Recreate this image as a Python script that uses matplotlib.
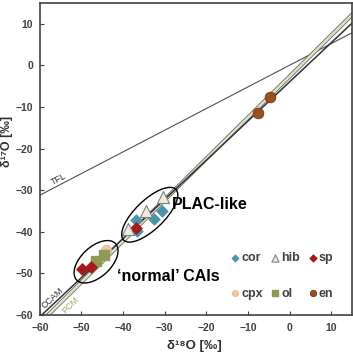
"""
δ18O vs δ17O of CAI minerals
"""
import matplotlib
matplotlib.use('Agg')
import matplotlib.pyplot as plt
from matplotlib.patches import Ellipse
import numpy as np

matplotlib.rcParams['font.family'] = ['Liberation Sans', 'DejaVu Sans']

# reference lines: slope, intercept
tfl = (0.52, 0.0)
ccam = (0.94, -4.0)
pcm = (0.987, -2.7)

# mineral data (δ18O, δ17O)
cor_x = [-37.0, -36.6, -32.6, -30.6]
cor_y = [-37.1, -39.7, -36.9, -34.9]
hib_x = [-38.8, -34.4, -30.4]
hib_y = [-39.4, -35.1, -31.7]
sp_x = [-36.8, -49.9, -47.7]
sp_y = [-39.0, -49.0, -48.4]
cpx_x = [-44.2]
cpx_y = [-44.4]
ol_x = [-46.4, -44.6]
ol_y = [-46.9, -45.6]
en_x = [-4.7, -7.5]
en_y = [-7.5, -11.5]

xlim = (-60, 15)
ylim = (-60, 15)

fig = plt.figure(figsize=(3.53, 3.54), dpi=100)
ax = fig.add_axes([0.113, 0.110, 0.884, 0.882])

xx = np.array(xlim, dtype=float)
ax.plot(xx, tfl[0] * xx + tfl[1], color='#505050', lw=0.8, zorder=1)
ax.plot(xx, pcm[0] * xx + pcm[1], color='#6a6a5a', lw=3.0, zorder=1)
ax.plot(xx, pcm[0] * xx + pcm[1], color='#dfe2c8', lw=1.8, zorder=1)
ax.plot(xx, ccam[0] * xx + ccam[1], color='#303040', lw=1.1, zorder=1)

# small error bars
ax.errorbar(cor_x, cor_y, xerr=1.2, yerr=1.2, fmt='none', ecolor='#8ab8cc', lw=0.6, zorder=2)
ax.errorbar(sp_x, sp_y, xerr=1.0, yerr=1.0, fmt='none', ecolor='#c08080', lw=0.6, zorder=2)
ax.errorbar(ol_x, ol_y, xerr=1.0, yerr=1.0, fmt='none', ecolor='#a0a8c8', lw=0.6, zorder=2)

ax.scatter(cor_x, cor_y, marker='D', s=30, color='#4d93ab', zorder=3, label='cor')
ax.scatter(cpx_x, cpx_y, marker='o', s=55, color='#f2c8a2', edgecolor='#e0b090', lw=0.5, zorder=3, label='cpx')
ax.scatter(hib_x, hib_y, marker='^', s=75, color='#ebebdf', edgecolor='#808080', lw=0.8, zorder=4, label='hib')
ax.scatter(ol_x, ol_y, marker='s', s=50, color='#8f9a55', zorder=3, label='ol')
ax.scatter(sp_x, sp_y, marker='D', s=32, color='#a31a1a', zorder=3, label='sp')
ax.scatter(en_x, en_y, marker='o', s=60, color='#9c4e1c', edgecolor='#6a3010', lw=0.5, zorder=3, label='en')

ax.add_patch(Ellipse((-33.6, -35.9), 17.5, 7.0, angle=44, fill=False, ec='black', lw=1.0, zorder=5))
ax.add_patch(Ellipse((-46.5, -47.2), 12.8, 7.2, angle=43, fill=False, ec='black', lw=1.0, zorder=5))

ax.text(-28.2, -33.5, 'PLAC-like', fontsize=11.5, fontweight='bold', va='center', ha='left')
ax.text(-41.4, -50.8, '\u2018normal\u2019 CAIs', fontsize=11.5, fontweight='bold', va='center', ha='left')

ax.text(-55.6, -27.3, 'TFL', fontsize=6.5, rotation=27.5, ha='center', va='center', color='#303030')
ax.text(-57.0, -56.0, 'CCAM', fontsize=6.5, rotation=43, ha='center', va='center', color='#303030')
ax.text(-52.6, -57.6, 'PCM', fontsize=6.5, rotation=45, ha='center', va='center', color='#a3a86a')

leg = ax.legend(ncol=3, loc='lower right', bbox_to_anchor=(0.965, 0.025), frameon=False,
                fontsize=9, handletextpad=0.1, columnspacing=0.6, labelspacing=1.9,
                handlelength=0.8, markerscale=0.6, borderaxespad=0.2)
for t in leg.get_texts():
    t.set_color('#404040')
    t.set_fontweight('bold')

ax.set_xlim(*xlim)
ax.set_ylim(*ylim)
ax.set_xticks(np.arange(-60, 11, 10))
ax.set_yticks(np.arange(-60, 11, 10))
ax.tick_params(direction='in', length=3, width=0.8, labelsize=7.5, colors='#404040')
ax.tick_params(axis='x', pad=6)
ax.tick_params(axis='y', pad=5)
for lab in ax.get_xticklabels() + ax.get_yticklabels():
    lab.set_fontweight('bold')
for sp in ax.spines.values():
    sp.set_color('#404040')
    sp.set_linewidth(1.2)

# axis titles placed in figure coordinates so they stay inside the canvas
fig.text(194 / 353, 2 / 354, '\u03b4\u00b9\u2078O [\u2030]', fontsize=9.5, fontweight='bold',
         color='#303030', ha='center', va='bottom')
fig.text(1 / 353, 0.60, '\u03b4\u00b9\u2077O [\u2030]', fontsize=9, fontweight='bold',
         color='#303030', ha='left', va='center', rotation=90)

fig.savefig('out.png', dpi=100)
